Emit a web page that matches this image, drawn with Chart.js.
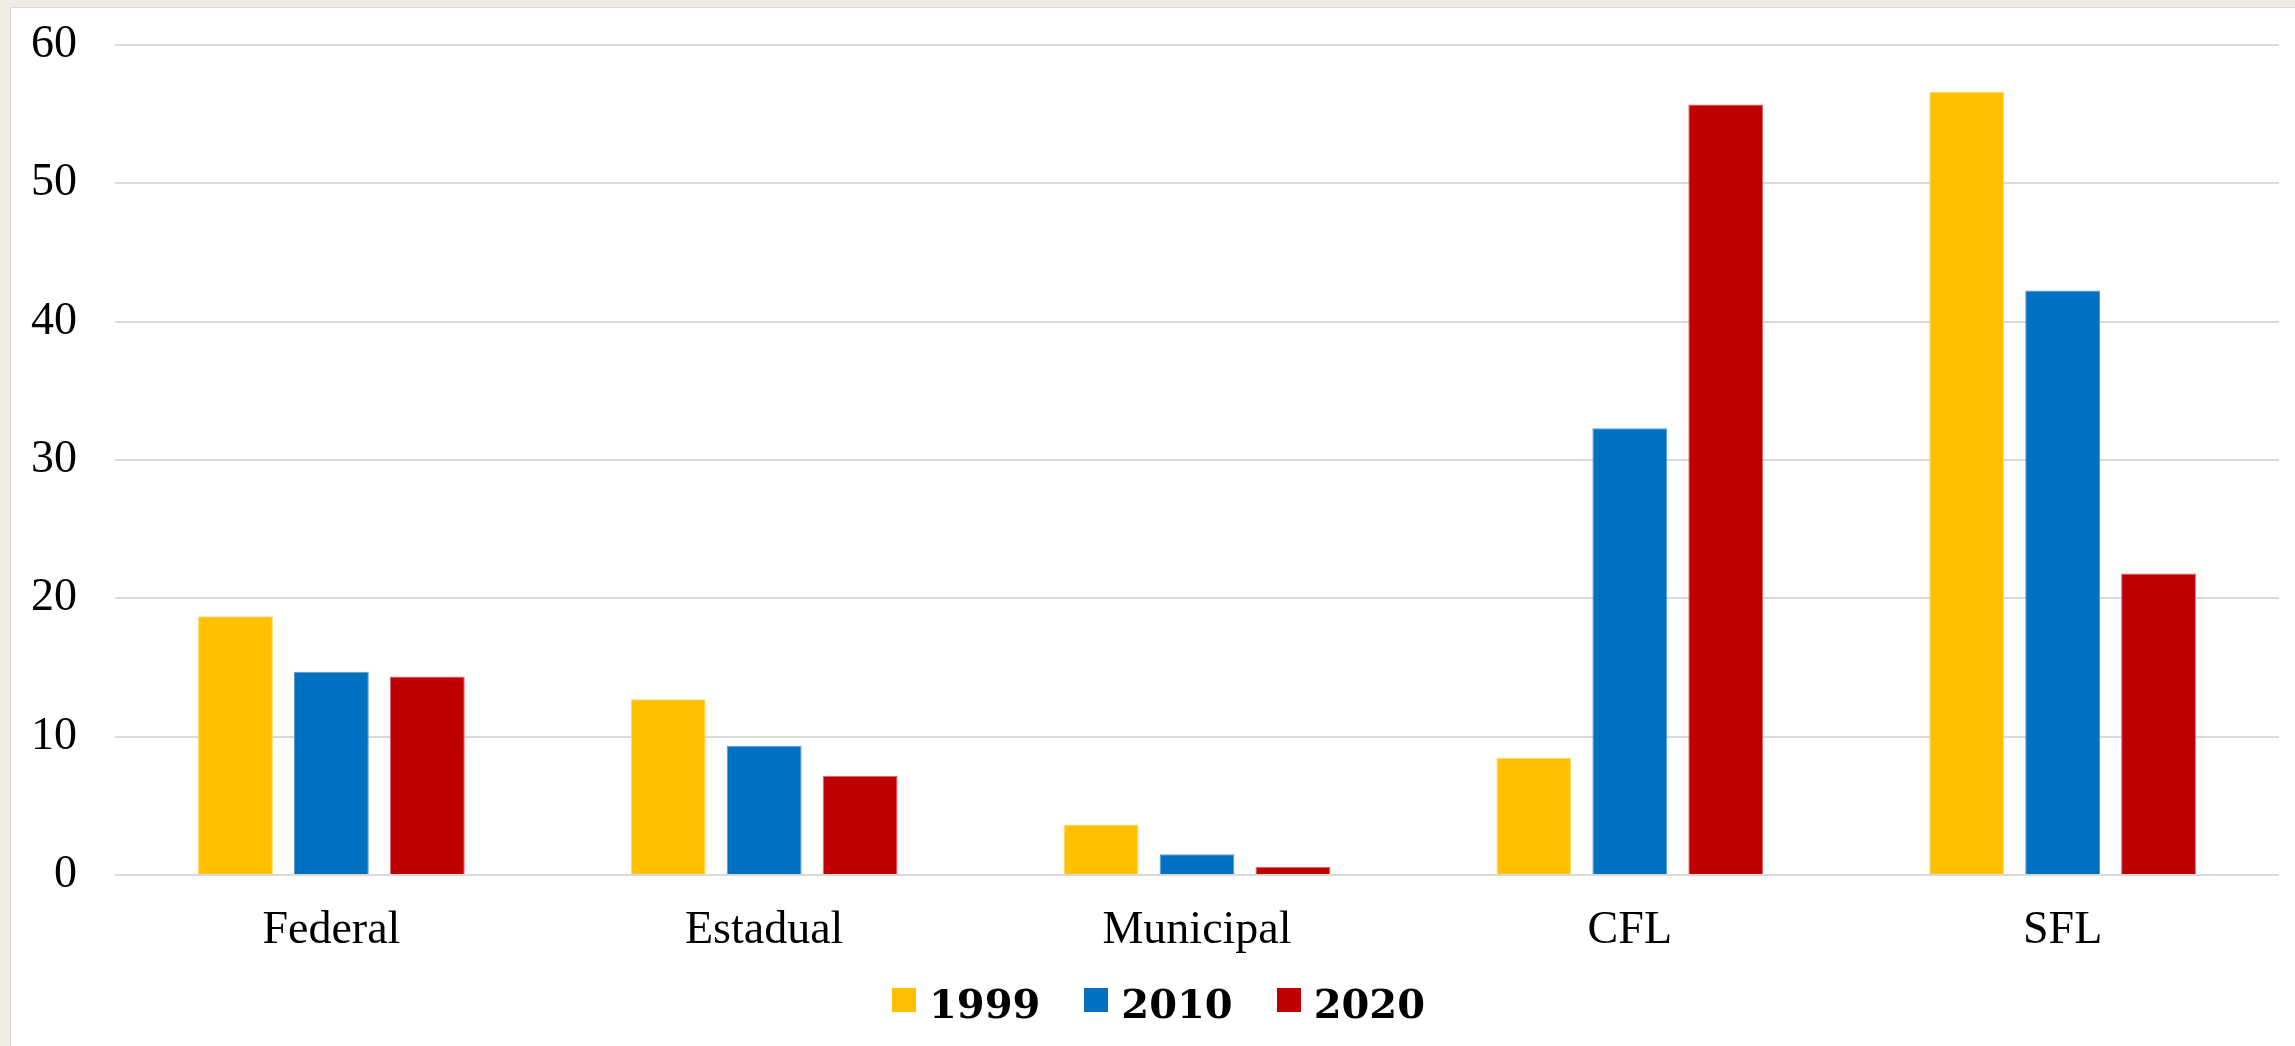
<!DOCTYPE html>
<html>
<head>
<meta charset="utf-8">
<script src="https://cdn.jsdelivr.net/npm/chart.js@4/dist/chart.umd.min.js"></script>
<style>
    html, body { margin: 0; padding: 0; }
    body { width: 2295px; height: 1046px; background: #EEEBE3; position: relative; overflow: hidden; }
    .panel { position: absolute; left: 10px; top: 7px; width: 2285px; height: 1039px; background: #fff;
             border-left: 1px solid #DAD8D2; border-top: 1px solid #DAD8D2; box-sizing: border-box; }
    #chartCanvas { position: absolute; left: 11px; top: 8px; }
    .legend { position: absolute; left: 892px; top: 984px; display: flex; align-items: flex-start; }
    .legend-item { display: flex; align-items: flex-start; margin-right: 44px; }
    .legend-box { width: 24px; height: 24px; margin-top: 4px; margin-right: 13px; }
    .legend-text { font: bold 40px "DejaVu Serif", serif; line-height: 40px; color: #000; white-space: nowrap; }
</style>
</head>
<body>
<div class="panel"></div>
<canvas id="chartCanvas" width="2284" height="1038"></canvas>
<div class="legend" id="legend"></div>
<script>
    // Chart data
    const categories = ['Federal', 'Estadual', 'Municipal', 'CFL', 'SFL'];
    const seriesLabels = ['1999', '2010', '2020'];
    const values1999 = [18.7, 12.7, 3.65, 8.45, 56.6];
    const values2010 = [14.7, 9.35, 1.5, 32.3, 42.25];
    const values2020 = [14.35, 7.15, 0.6, 55.7, 21.8];
    const yTicks = [0, 10, 20, 30, 40, 50, 60];

    const colors = ['#FFC000', '#0070C0', '#C00000'];
    const edgeColors = ['#FFD966', '#5B9BD5', '#E06666'];
    const allValues = [values1999, values2010, values2020];

    const datasets = seriesLabels.map(function(label, i) {
        return {
            label: label,
            data: allValues[i],
            backgroundColor: colors[i],
            borderColor: edgeColors[i],
            borderWidth: 1,
            categoryPercentage: 0.665,
            barPercentage: 0.78
        };
    });

    const tickFont = { family: '"Liberation Serif", serif', size: 46 };

    const ctx = document.getElementById('chartCanvas').getContext('2d');
    new Chart(ctx, {
        type: 'bar',
        data: { labels: categories, datasets: datasets },
        options: {
            responsive: false,
            animation: false,
            layout: { padding: { top: 37, right: 16, bottom: 91, left: 0 } },
            plugins: {
                legend: { display: false },
                tooltip: { enabled: false }
            },
            scales: {
                x: {
                    grid: { display: false },
                    border: { display: false },
                    ticks: { color: '#000', font: tickFont, padding: 20, maxRotation: 0 },
                    afterFit: function(scale) { scale.height = 80; }
                },
                y: {
                    min: yTicks[0],
                    max: yTicks[yTicks.length - 1],
                    afterBuildTicks: function(scale) {
                        scale.ticks = yTicks.map(v => ({ value: v }));
                    },
                    grid: { color: '#D9D9D9', lineWidth: 2, drawTicks: false },
                    border: { display: false },
                    ticks: { color: '#000', font: tickFont, padding: 38 },
                    afterFit: function(scale) {
                        // keep the wide label gap from pushing the plot top down
                        scale.width = 104;
                        scale.paddingTop = 28;
                        scale.paddingBottom = 28;
                    }
                }
            }
        }
    });

    // HTML legend below the chart
    const legendEl = document.getElementById('legend');
    seriesLabels.forEach(function(label, i) {
        const item = document.createElement('div');
        item.className = 'legend-item';
        item.innerHTML = '<span class="legend-box" style="background:' + colors[i] + '"></span>' +
                         '<span class="legend-text">' + label + '</span>';
        legendEl.appendChild(item);
    });
</script>
</body>
</html>
